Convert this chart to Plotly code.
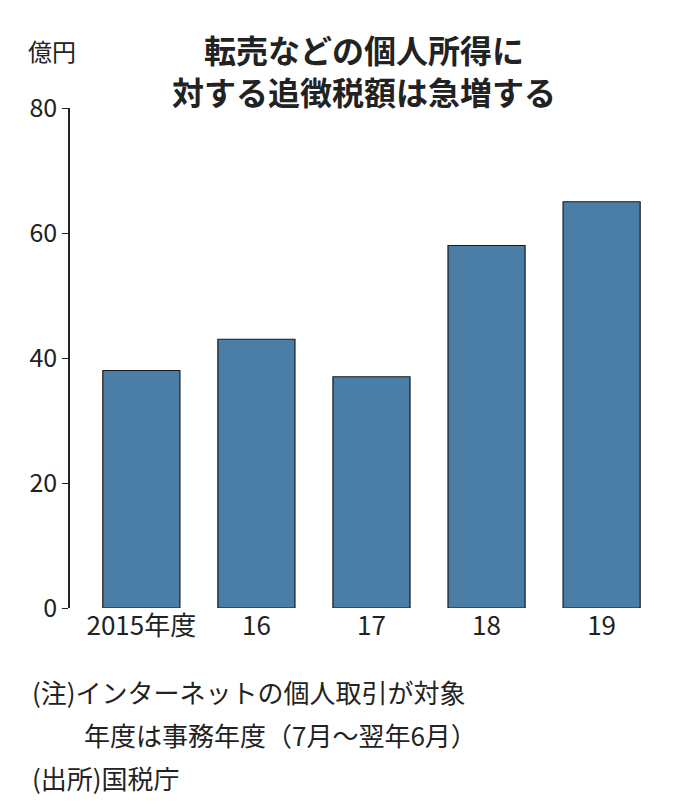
import plotly.graph_objects as go

categories = ["2015年度", "16", "17", "18", "19"]
values = [38, 43, 37, 58, 65]
y_ticks = [0, 20, 40, 60, 80]

F = "Noto Sans CJK JP"
fig = go.Figure(go.Bar(x=categories, y=values, marker=dict(color="#4a7ea6", line=dict(color="#1a1a1a", width=1.2))))
fig.update_layout(
    width=696, height=807, paper_bgcolor="white", plot_bgcolor="white",
    margin=dict(l=62, r=46, t=100, b=207), bargap=0.33, showlegend=False,
    font=dict(family=F, color="#222", size=25),
    xaxis=dict(showline=False, ticks="", tickfont=dict(size=26), range=[-0.62, 4.49]),
    yaxis=dict(range=[0, 80], tickvals=y_ticks, showgrid=False, showline=True, linecolor="#222",
               linewidth=1.5, ticks="outside", ticklen=6, tickcolor="#222", tickfont=dict(size=25), zeroline=False),
)
fig.add_annotation(text="<b>転売などの個人所得に<br>対する追徴税額は急増する</b>", x=0.5, y=1.0, xref="paper", yref="paper",
                   xanchor="center", yanchor="bottom", yshift=-8, showarrow=False, font=dict(size=32, family=F), align="center")
fig.add_annotation(text="億円", x=-0.075, y=1.0, xref="paper", yref="paper", xanchor="left", yanchor="bottom",
                   yshift=38, showarrow=False, font=dict(size=24, family=F))
notes = ["(注)インターネットの個人取引が対象", "　　年度は事務年度（7月～翌年6月）", "(出所)国税庁"]
for i, t in enumerate(notes):
    fig.add_annotation(text=t, x=0, y=0, xref="paper", yref="paper", xanchor="left", yanchor="top",
                       xshift=-40, yshift=-63 - i * 43, showarrow=False, font=dict(size=26, family=F))
fig.write_html("out.html")
